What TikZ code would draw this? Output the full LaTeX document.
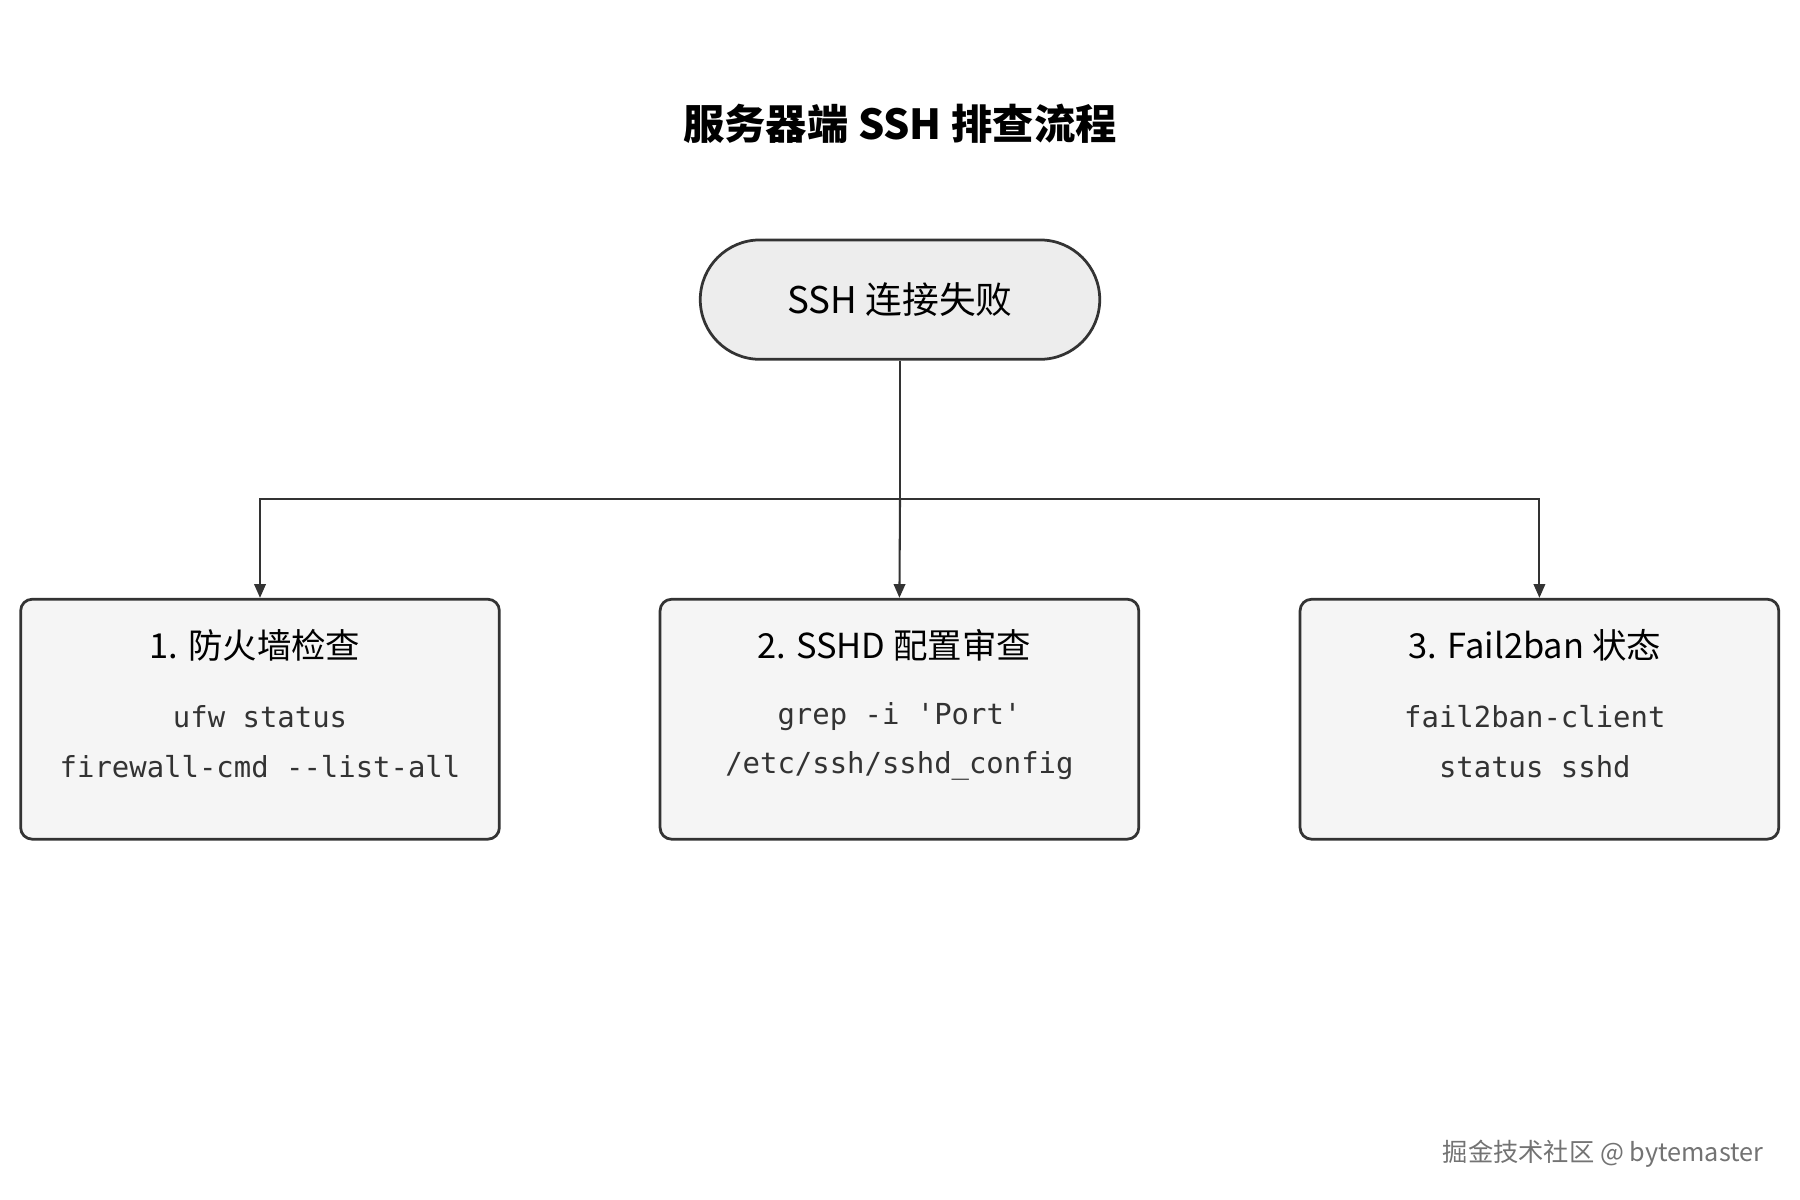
\documentclass[tikz,border=0pt]{standalone}
\usepackage{fontspec}
\setmainfont{Noto Sans CJK SC}
\setmonofont{DejaVu Sans Mono}
\usetikzlibrary{arrows.meta}
\definecolor{ln}{HTML}{333333}
\begin{document}
\begin{tikzpicture}[x=0.5pt,y=-0.5pt,
  box/.style={draw=ln,line width=1.2pt,fill=black!4,rounded corners=5pt,minimum width=208.5pt,minimum height=104.5pt,inner sep=0pt},
  arr/.style={draw=ln,line width=0.9pt,-{Triangle[length=6pt,width=5pt]}},
  hd/.style={font=\fontsize{15}{18}\selectfont,text=black},
  cd/.style={font=\ttfamily\fontsize{12.6}{21.5}\selectfont,text=ln,align=center}]
\useasboundingbox (0,0) rectangle (1568,1045);
\fill[white] (0,0) rectangle (1568,1045);
\node[font=\bfseries\fontsize{18}{22}\selectfont] (title) at (784,108) {服务器端 SSH 排查流程};
\node[draw=ln,line width=1.2pt,fill=black!7,rounded corners=26pt,minimum width=174pt,minimum height=52pt,font=\fontsize{16}{20}\selectfont] (start) at (784,261) {SSH 连接失败};
\node[box] (b1) at (226.5,626.5) {};
\node[box] (b2) at (783.5,626.5) {};
\node[box] (b3) at (1341,626.5) {};
\node[hd] (t1) at (222,562) {1. 防火墙检查};
\node[hd] (t2) at (779,562) {2. SSHD 配置审查};
\node[hd] (t3) at (1337,562) {3. Fail2ban 状态};
\node[cd] (c1) at (226.5,646) {ufw status\\firewall-cmd --list-all};
\node[cd] (c2) at (783.5,646) {grep -i 'Port'\\/etc/ssh/sshd\_config};
\node[cd] (c3) at (1337,646) {fail2ban-client\\status sshd};
\coordinate (j) at (784,435);
\draw[draw=ln,line width=0.9pt] (start.south) -- (j);
\draw[arr] (j) -| (b1.north);
\draw[arr] (j) -- (b2.north);
\draw[arr] (j) -| (b3.north);
\node[text=black!55,font=\fontsize{11}{13}\selectfont,anchor=east] (wm) at (1543,1005) {掘金技术社区 @ bytemaster};
\end{tikzpicture}
\end{document}
